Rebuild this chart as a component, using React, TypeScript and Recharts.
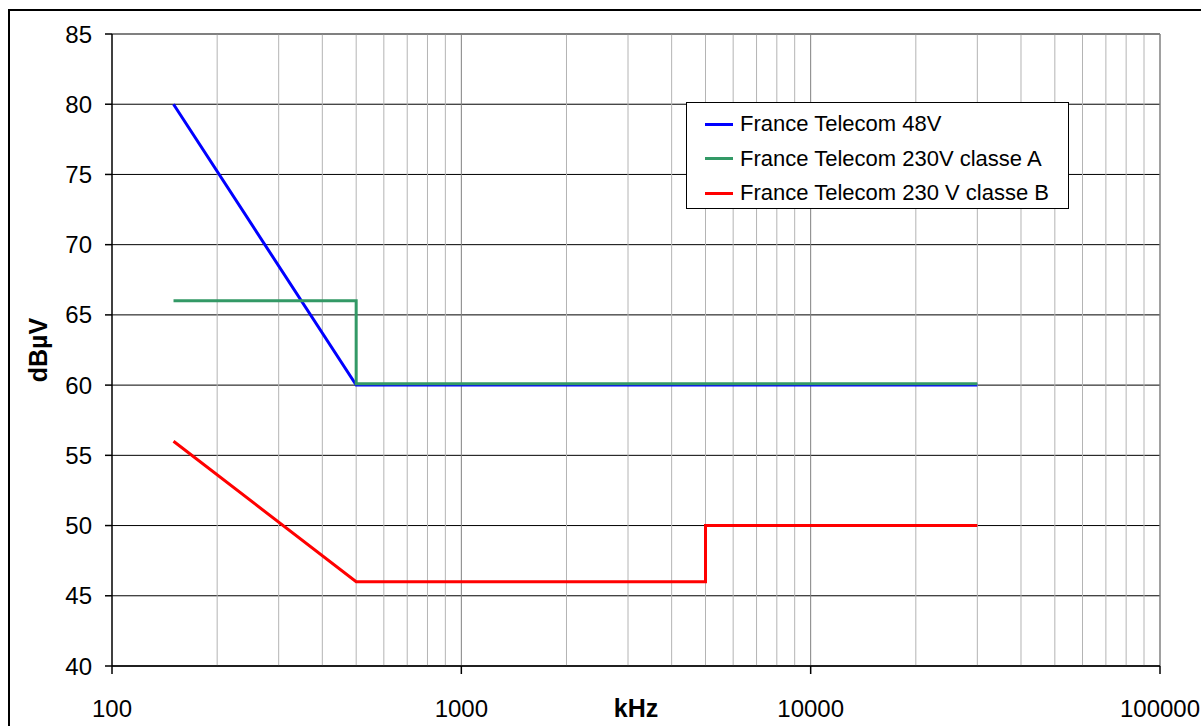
import React from 'react';
import { LineChart, Line, XAxis, YAxis, CartesianGrid, ReferenceLine, Label } from 'recharts';

// Frequencies in kHz, levels in dBµV
const series48V = [
  { f: 150, y: 80 },
  { f: 500, y: 60 },
  { f: 30000, y: 60 },
];
const series230A = [
  { f: 150, y: 66 },
  { f: 500, y: 66 },
  { f: 500, y: 60.1 },
  { f: 30000, y: 60.1 },
];
const series230B = [
  { f: 150, y: 56 },
  { f: 500, y: 46 },
  { f: 5000, y: 46 },
  { f: 5000, y: 50 },
  { f: 30000, y: 50 },
];

const xTicks = [100, 1000, 10000, 100000];
const yTicks = [40, 45, 50, 55, 60, 65, 70, 75, 80, 85];
const decadeLines = [1000, 10000];
const minorLines = [
  200, 300, 400, 500, 600, 700, 800, 900,
  2000, 3000, 4000, 5000, 6000, 7000, 8000, 9000,
  20000, 30000, 40000, 50000, 60000, 70000, 80000, 90000,
];

const seriesNames = [
  'France Telecom 48V',
  'France Telecom 230V classe A',
  'France Telecom 230 V classe B',
];
const seriesColors = ['#0000FF', '#339966', '#FF0000'];

const FONT = '"Liberation Sans", Arial, sans-serif';

const LegendBox = () => (
  <div
    style={{
      position: 'absolute',
      left: 686,
      top: 102,
      border: '1.5px solid #000',
      background: '#fff',
      width: 383,
      height: 107,
      boxSizing: 'border-box',
      paddingTop: 4,
      fontFamily: FONT,
      fontSize: 22,
      color: '#000',
    }}
  >
    {seriesNames.map((n, i) => (
      <div key={n} style={{ display: 'flex', alignItems: 'center', height: 34.5 }}>
        <div style={{ width: 28, height: 3, background: seriesColors[i], marginLeft: 18, marginRight: 7 }} />
        <span style={{ whiteSpace: 'nowrap' }}>{n}</span>
      </div>
    ))}
  </div>
);

const YTitle = (props: any) => {
  const vb = props.viewBox || {};
  const cx = (vb.x || 0) + 38;
  const cy = (vb.y || 0) + (vb.height || 0) / 2;
  return (
    <text
      x={cx}
      y={cy}
      transform={`rotate(-90, ${cx}, ${cy})`}
      textAnchor="middle"
      dominantBaseline="central"
      fontFamily={FONT}
      fontWeight="bold"
      fontSize={25}
      fill="#000"
    >
      dBµV
    </text>
  );
};

export default function App() {
  return (
    <div style={{ position: 'absolute', left: 0, top: 0, width: 1201, height: 726, overflow: 'hidden', background: '#fff' }}>
      <div
        style={{
          position: 'absolute',
          left: 8,
          top: 9,
          width: 1300,
          height: 900,
          border: '2px solid #000',
          boxSizing: 'border-box',
        }}
      />
      <div style={{ position: 'absolute', left: 0, top: 0 }}>
        <LineChart width={1201} height={726} margin={{ top: 34, right: 41, bottom: 0, left: 0 }}>
          <CartesianGrid horizontal vertical={false} stroke="#000" strokeWidth={1} />
          {minorLines.map((v) => (
            <ReferenceLine key={'m' + v} x={v} stroke="#b4b4b4" strokeWidth={1} />
          ))}
          {decadeLines.map((v) => (
            <ReferenceLine key={'d' + v} x={v} stroke="#808080" strokeWidth={1} />
          ))}
          <ReferenceLine x={100000} stroke="#808080" strokeWidth={1.5} />
          <ReferenceLine y={85} stroke="#808080" strokeWidth={1.5} />
          <XAxis
            type="number"
            dataKey="f"
            scale="log"
            domain={[100, 100000]}
            ticks={xTicks}
            allowDataOverflow
            height={60}
            tickSize={8}
            tickMargin={26}
            stroke="#000"
            strokeWidth={1.5}
            tick={{ fill: '#000', fontSize: 24, fontFamily: FONT }}
            tickLine={{ stroke: '#000' }}
          >
            <Label value="kHz" position="insideBottom" offset={9} style={{ fontFamily: FONT, fontWeight: 'bold', fontSize: 25, fill: '#000' }} />
          </XAxis>
          <YAxis
            type="number"
            domain={[40, 85]}
            ticks={yTicks}
            width={112}
            tickSize={7}
            tickMargin={13}
            stroke="#000"
            strokeWidth={1.5}
            tick={{ fill: '#000', fontSize: 24, fontFamily: FONT }}
            tickLine={{ stroke: '#000' }}
            allowDataOverflow
          >
            <Label content={YTitle} />
          </YAxis>
          <Line data={series48V} dataKey="y" type="linear" stroke={seriesColors[0]} strokeWidth={3} dot={false} isAnimationActive={false} name={seriesNames[0]} />
          <Line data={series230A} dataKey="y" type="linear" stroke={seriesColors[1]} strokeWidth={3} dot={false} isAnimationActive={false} name={seriesNames[1]} />
          <Line data={series230B} dataKey="y" type="linear" stroke={seriesColors[2]} strokeWidth={3} dot={false} isAnimationActive={false} name={seriesNames[2]} />
        </LineChart>
      </div>
      <LegendBox />
    </div>
  );
}
